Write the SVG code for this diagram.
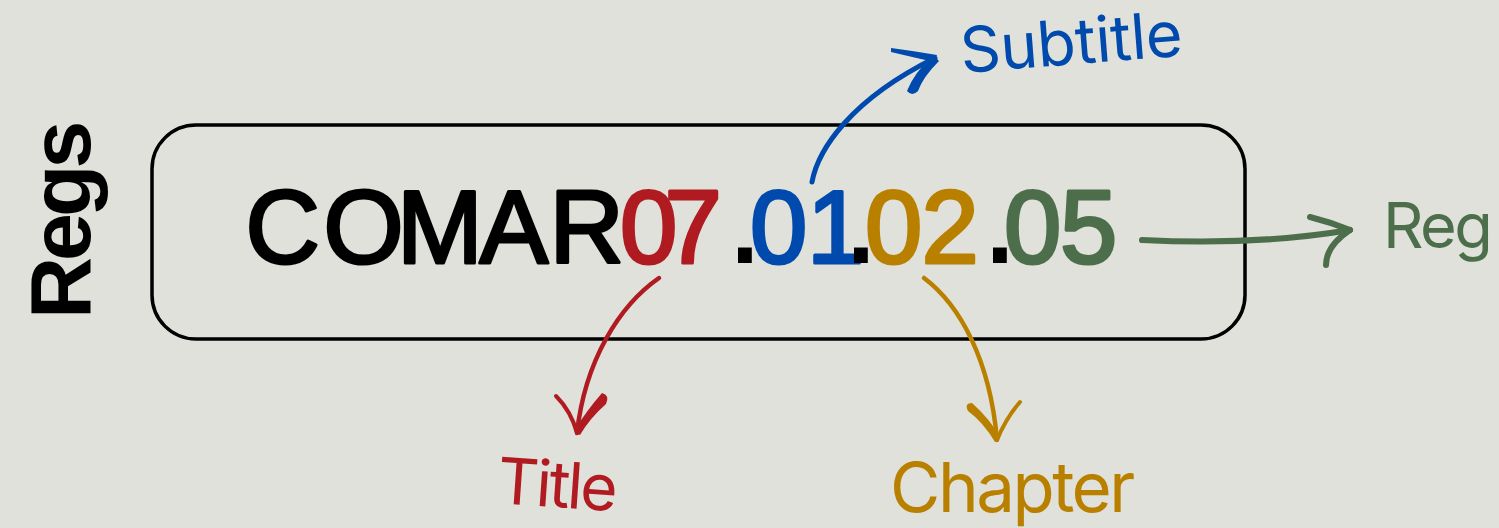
<svg xmlns="http://www.w3.org/2000/svg" width="1499" height="528" viewBox="0 0 1499 528">
<style>
.sans{font-family:"Liberation Sans",Arial,sans-serif}
.lbl{font-family:Inter,"Noto Sans",sans-serif}
.red{fill:#af1b20}.blue{fill:#004aad}.orange{fill:#b98000}.green{fill:#4d6e4b}.blk{fill:#000}
.code{stroke-width:3.2;stroke-linejoin:round}
.code .red{stroke:#af1b20}.code .blue{stroke:#004aad}.code .orange{stroke:#b98000}.code .green{stroke:#4d6e4b}.code .blk{stroke:#000}
.code .dot{stroke:none;fill:#000}
.line{fill:none;stroke-linecap:round;stroke-linejoin:round}
</style>
<rect width="1499" height="528" fill="#e0e1da"/>
<g id="regs-label">
<text class="sans" transform="translate(90,319) rotate(-90)" font-size="86" font-weight="bold" letter-spacing="-4" fill="#000">Regs</text>
</g>
<g id="code-box">
<rect x="152" y="125" width="1093" height="214" rx="44" fill="none" stroke="#000" stroke-width="3.5"/>
<text class="sans code" y="263" font-size="103"><tspan class="blk" x="245.5">C</tspan><tspan class="blk" x="323.5">O</tspan><tspan class="blk" x="397">M</tspan><tspan class="blk" x="479.5">A</tspan><tspan class="blk" x="549.5">R</tspan><tspan class="red" x="620">0</tspan><tspan class="red" x="664.5">7</tspan><tspan class="dot" x="724.8" font-size="145">.</tspan><tspan class="blue" x="750">0</tspan><tspan class="blue" x="807">1</tspan><tspan class="dot" x="840.8" font-size="145">.</tspan><tspan class="orange" x="865">0</tspan><tspan class="orange" x="921.5">2</tspan><tspan class="dot" x="979.8" font-size="145">.</tspan><tspan class="green" x="1004">0</tspan><tspan class="green" x="1060">5</tspan></text>
</g>
<g id="subtitle">
<text class="lbl blue" transform="translate(962,73) rotate(-4.5)" font-size="63" letter-spacing="-0.3">Subtitle</text>
</g>
<g id="title">
<text class="lbl red" transform="translate(496,503) rotate(4)" font-size="64" letter-spacing="-2.5">Title</text>
</g>
<g id="chapter">
<text class="lbl orange" x="890" y="512" font-size="69" letter-spacing="-2.5">Chapter</text>
</g>
<g id="reg">
<text class="lbl green" x="1383" y="248" font-size="63" letter-spacing="-2.5">Reg</text>
</g>
<g id="connectors">
<path class="line" d="M812,182 C818,150 850,100 935,58" stroke="#004aad" stroke-width="5"/>
<path d="M891,48 Q914,51 937,55 L934,62 Q912,57 891,52 Z" fill="#004aad"/>
<path d="M933,55 L939,61 Q923,77 918,91 Q912,97 907,91 Q914,73 933,55 Z" fill="#004aad"/>
<path class="line" d="M659,278 C620,305 585,360 577,433" stroke="#af1b20" stroke-width="4.5"/>
<path class="line" d="M556,396 Q571,411 577,433" stroke="#af1b20" stroke-width="4"/>
<path d="M574,431 L580,435 Q590,418 606,404 Q610,395 602,393 Q587,410 574,431 Z" fill="#af1b20"/>
<path class="line" d="M924,278 C960,305 990,360 997,440" stroke="#b98000" stroke-width="4.5"/>
<path class="line" d="M1020,402 Q1006,418 997,440" stroke="#b98000" stroke-width="4"/>
<path d="M1000,437 L995,442 Q983,422 968,411 Q964,403 972,403 Q990,419 1000,437 Z" fill="#b98000"/>
<path class="line" d="M1142,240 C1220,244 1290,240 1350,230" stroke="#4d6e4b" stroke-width="6"/>
<path class="line" d="M1310,217 Q1330,222 1350,230" stroke="#4d6e4b" stroke-width="6"/>
<path class="line" d="M1350,230 C1335,240 1326,252 1326,265" stroke="#4d6e4b" stroke-width="6"/>
</g>
</svg>
